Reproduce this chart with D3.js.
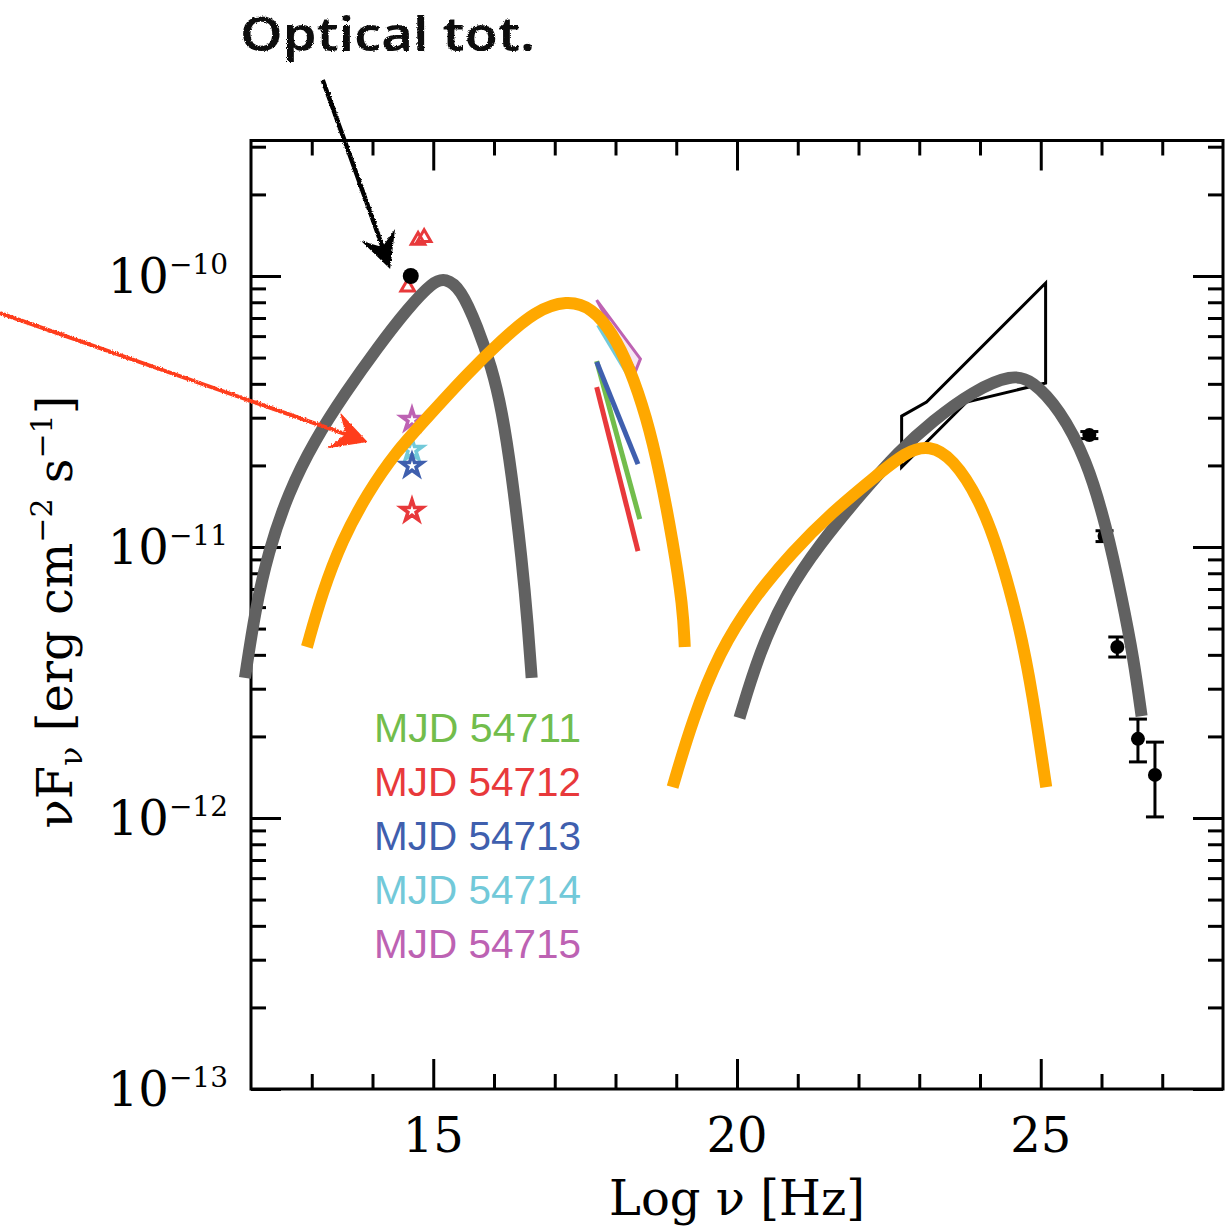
<!DOCTYPE html>
<html>
<head>
<meta charset="utf-8">
<script src="https://cdn.jsdelivr.net/npm/d3@7"></script>
<style>
  html, body { margin: 0; padding: 0; background: #fff; }
  svg { display: block; }
</style>
</head>
<body>
<svg id="chart" width="1225" height="1228"></svg>
<script>
// ---- data: log10(nu / Hz) and log10(nu F_nu / erg cm^-2 s^-1) ----

// model curves
const syncModelA = [[11.90,-11.483],[12.07,-11.232],[12.28,-11.022],[12.61,-10.801],[13.05,-10.605],
  [13.55,-10.432],[14.09,-10.262],[14.58,-10.120],[15.00,-10.020],[15.20,-10.008],[15.45,-10.045],
  [15.73,-10.188],[15.96,-10.336],[16.13,-10.494],[16.29,-10.727],[16.46,-11.048],[16.56,-11.295],[16.62,-11.483]];
const icModelA = [[20.04,-11.631],[20.37,-11.387],[20.82,-11.166],[21.36,-10.990],[22.02,-10.810],
  [22.67,-10.645],[23.22,-10.535],[23.88,-10.425],[24.53,-10.362],[24.86,-10.385],[25.31,-10.491],
  [25.75,-10.675],[26.08,-10.923],[26.34,-11.192],[26.53,-11.413],[26.66,-11.624]];
const syncModelB = [[12.92,-11.369],[13.17,-11.170],[13.50,-10.974],[13.92,-10.801],[14.37,-10.653],
  [14.91,-10.520],[15.57,-10.358],[16.13,-10.236],[16.67,-10.130],[17.20,-10.088],[17.62,-10.118],
  [17.95,-10.210],[18.23,-10.336],[18.51,-10.520],[18.73,-10.727],[18.94,-10.974],[19.11,-11.221],[19.14,-11.369]];
const icModelB = [[18.94,-11.886],[19.27,-11.635],[19.71,-11.387],[20.26,-11.192],[20.91,-11.018],
  [21.57,-10.871],[22.23,-10.749],[22.79,-10.646],[23.17,-10.624],[23.55,-10.672],[23.99,-10.823],
  [24.32,-11.018],[24.65,-11.292],[24.86,-11.535],[25.09,-11.886]];

// optical photometry
const opticalTotal = [[14.63,-10.00]];
const opticalTriangles = [[14.75,-9.868],[14.85,-9.858],[14.58,-10.041]];
const starDays = ["54715","54714","54713","54712"];
const starFlux = [-10.531,-10.642,-10.701,-10.867];
const starNu = 14.65;

// X-ray power laws per day: [nuStart, fluxStart, nuEnd, fluxEnd]
const xrayDays = ["54714","54711","54713","54712"];
const xraySegments = [
  [17.72,-10.180,18.35,-10.415],
  [17.69,-10.314,18.40,-10.897],
  [17.69,-10.317,18.37,-10.694],
  [17.69,-10.410,18.37,-11.015]
];
const xrayBand54715 = [[17.69,-10.089],[18.41,-10.306],[18.33,-10.351]];

// gamma-ray butterfly (GeV)
const gevButterfly = [[22.71,-10.517],[23.12,-10.465],[25.08,-10.026],[25.08,-10.395],[23.78,-10.465],[22.71,-10.705]];

// VHE points: nu, flux, error low, error high
const vheNu   = [25.80, 26.05, 26.26, 26.60, 26.88];
const vheFlux = [-10.587, -10.959, -11.369, -11.708, -11.841];
const vheLo   = [-10.600, -10.980, -11.406, -11.793, -11.996];
const vheHi   = [-10.574, -10.940, -11.332, -11.635, -11.720];

// legend
const legendDays = ["MJD 54711","MJD 54712","MJD 54713","MJD 54714","MJD 54715"];
const dayColor = {
  "54711": "#72bd4c",
  "54712": "#e8393b",
  "54713": "#3f5fae",
  "54714": "#72c9d9",
  "54715": "#bd62b3"
};

// axis ticks
const xMajor = [15, 20, 25];
const xMinor = [13,14,16,17,18,19,21,22,23,24,26,27];
const yMajor = [-13, -12, -11, -10];
const yTickLabels = ["\u221213","\u221212","\u221211","\u221210"];

// annotations (data coordinates)
const noteText = "Optical tot.";
const notePos = [11.82, -9.17];
const blackArrow = [[13.18,-9.277],[13.62,-9.55],[14.29,-9.974]];
const redArrow = [[7.87,-10.137],[13.92,-10.613]];

// ---- drawing ----
const svg = d3.select("#chart");
const plotL = 251, plotR = 1223, plotT = 140.5, plotB = 1089;

const x = d3.scaleLinear().domain([12, 28]).range([plotL, plotR]);
const y = d3.scaleLinear().domain([-13, -9.5]).range([plotB, plotT]);

const defs = svg.append("defs");
const rough = defs.append("filter").attr("id", "rough")
  .attr("x", "-10%").attr("y", "-10%").attr("width", "120%").attr("height", "120%");
rough.append("feTurbulence").attr("type", "fractalNoise").attr("baseFrequency", 0.8)
  .attr("numOctaves", 2).attr("seed", 3).attr("result", "noise");
rough.append("feDisplacementMap").attr("in", "SourceGraphic").attr("in2", "noise")
  .attr("scale", 3).attr("xChannelSelector", "R").attr("yChannelSelector", "G");

const serif = "'DejaVu Serif', 'Liberation Serif', serif";

// minor y ticks: 2..9 times each decade
const yMinor = [];
for (let e = -13; e <= -10; e++) {
  for (let k = 2; k <= 9; k++) {
    const v = e + Math.log10(k);
    if (v <= -9.5) yMinor.push(v);
  }
}

function styleAxis(g) {
  g.select(".domain").remove();
  g.selectAll(".tick line").attr("stroke", "#000").attr("stroke-width", 3);
  g.selectAll(".tick text").remove();
}

// inward ticks on all four sides
const axes = svg.append("g");
axes.append("g").attr("transform", `translate(0,${plotB})`)
  .call(d3.axisBottom(x).tickValues(xMajor).tickSize(-30)).call(styleAxis);
axes.append("g").attr("transform", `translate(0,${plotB})`)
  .call(d3.axisBottom(x).tickValues(xMinor).tickSize(-15)).call(styleAxis);
axes.append("g").attr("transform", `translate(0,${plotT})`)
  .call(d3.axisTop(x).tickValues(xMajor).tickSize(-30)).call(styleAxis);
axes.append("g").attr("transform", `translate(0,${plotT})`)
  .call(d3.axisTop(x).tickValues(xMinor).tickSize(-15)).call(styleAxis);
axes.append("g").attr("transform", `translate(${plotL},0)`)
  .call(d3.axisLeft(y).tickValues(yMajor).tickSize(-30)).call(styleAxis);
axes.append("g").attr("transform", `translate(${plotL},0)`)
  .call(d3.axisLeft(y).tickValues(yMinor).tickSize(-15)).call(styleAxis);
axes.append("g").attr("transform", `translate(${plotR},0)`)
  .call(d3.axisRight(y).tickValues(yMajor).tickSize(-30)).call(styleAxis);
axes.append("g").attr("transform", `translate(${plotR},0)`)
  .call(d3.axisRight(y).tickValues(yMinor).tickSize(-15)).call(styleAxis);

// frame
svg.append("rect").attr("x", plotL).attr("y", plotT)
  .attr("width", plotR - plotL).attr("height", plotB - plotT)
  .attr("fill", "none").attr("stroke", "#000").attr("stroke-width", 3);

// tick labels
svg.append("g").selectAll("text").data(xMajor).join("text")
  .attr("x", d => x(d)).attr("y", plotB + 63)
  .attr("text-anchor", "middle")
  .attr("font-family", serif).attr("font-size", 48)
  .text(d => d);

const yl = svg.append("g").selectAll("text").data(yMajor).join("text")
  .attr("x", 228).attr("y", d => y(d) + 17)
  .attr("text-anchor", "end")
  .attr("font-family", serif);
yl.append("tspan").attr("font-size", 48).text("10");
yl.append("tspan").attr("font-size", 28).attr("dy", -19).text((d, i) => yTickLabels[i]);

// axis titles
svg.append("text").attr("x", x(20)).attr("y", 1215)
  .attr("text-anchor", "middle").attr("font-family", serif).attr("font-size", 48)
  .text("Log \u03bd [Hz]");

const yt = svg.append("text")
  .attr("transform", `translate(72,612) rotate(-90)`)
  .attr("text-anchor", "middle").attr("font-family", serif).attr("font-size", 48);
yt.append("tspan").text("\u03bdF");
yt.append("tspan").attr("font-size", 32).attr("dy", 10).text("\u03bd");
yt.append("tspan").attr("dy", -10).text(" [erg cm");
yt.append("tspan").attr("font-size", 30).attr("dy", -20).text("\u22122");
yt.append("tspan").attr("dy", 20).text(" s");
yt.append("tspan").attr("font-size", 30).attr("dy", -20).text("\u22121");
yt.append("tspan").attr("dy", 20).text("]");

const closed = d3.line().x(d => x(d[0])).y(d => y(d[1])).curve(d3.curveLinearClosed);
const smooth = d3.line().x(d => x(d[0])).y(d => y(d[1])).curve(d3.curveBasis);

// GeV butterfly
svg.append("path").datum(gevButterfly)
  .attr("d", closed)
  .attr("fill", "none").attr("stroke", "#000").attr("stroke-width", 3)
  .attr("stroke-linejoin", "miter");

// VHE points with error bars
const vhe = svg.append("g");
vheNu.forEach((nu, i) => {
  const cx = x(nu);
  vhe.append("line").attr("x1", cx).attr("x2", cx).attr("y1", y(vheLo[i])).attr("y2", y(vheHi[i]))
    .attr("stroke", "#000").attr("stroke-width", 3);
  [vheLo[i], vheHi[i]].forEach(v => vhe.append("line")
    .attr("x1", cx - 9).attr("x2", cx + 9).attr("y1", y(v)).attr("y2", y(v))
    .attr("stroke", "#000").attr("stroke-width", 3));
  vhe.append("circle").attr("cx", cx).attr("cy", y(vheFlux[i])).attr("r", 7).attr("fill", "#000");
});

// X-ray slopes
xraySegments.forEach((s, i) => {
  svg.append("line")
    .attr("x1", x(s[0])).attr("y1", y(s[1])).attr("x2", x(s[2])).attr("y2", y(s[3]))
    .attr("stroke", dayColor[xrayDays[i]]).attr("stroke-width", 5);
});
svg.append("path").datum(xrayBand54715)
  .attr("d", closed)
  .attr("fill", "#f6e6f3").attr("stroke", dayColor["54715"]).attr("stroke-width", 3);

// optical points
svg.append("g").selectAll("path").data(opticalTriangles).join("path")
  .attr("transform", d => `translate(${x(d[0])},${y(d[1])})`)
  .attr("d", d3.symbol(d3.symbolTriangle, 80))
  .attr("fill", "none").attr("stroke", dayColor["54712"]).attr("stroke-width", 3);
svg.append("g").selectAll("path").data(starFlux).join("path")
  .attr("transform", d => `translate(${x(starNu)},${y(d)})`)
  .attr("d", d3.symbol(d3.symbolStar, 140))
  .attr("fill", "#fff")
  .attr("stroke", (d, i) => dayColor[starDays[i]]).attr("stroke-width", 3.5);
svg.append("g").selectAll("circle").data(opticalTotal).join("circle")
  .attr("cx", d => x(d[0])).attr("cy", d => y(d[1])).attr("r", 8).attr("fill", "#000");

// model curves
[[syncModelA, "#616161"], [icModelA, "#616161"], [syncModelB, "#ffa800"], [icModelB, "#ffa800"]]
  .forEach(([pts, c]) => {
    svg.append("path").datum(pts).attr("d", smooth)
      .attr("fill", "none").attr("stroke", c).attr("stroke-width", 12)
      .attr("stroke-linejoin", "round");
  });

// legend
svg.append("g").selectAll("text").data(legendDays).join("text")
  .attr("x", 374).attr("y", (d, i) => 742 + i * 54)
  .attr("font-family", "'Liberation Sans', Arial, sans-serif").attr("font-size", 41)
  .attr("textLength", 207).attr("lengthAdjust", "spacingAndGlyphs")
  .attr("fill", d => dayColor[d.split(" ")[1]])
  .text(d => d);

// hand-drawn annotations
function arrowHead(tip, from, len, half) {
  const dx = tip[0] - from[0], dy = tip[1] - from[1];
  const n = Math.hypot(dx, dy), ux = dx / n, uy = dy / n;
  const bx = tip[0] - ux * len, by = tip[1] - uy * len;
  const nx = tip[0] - ux * len * 0.65, ny = tip[1] - uy * len * 0.65;
  return `M${tip[0]},${tip[1]}L${bx - uy * half},${by + ux * half}L${nx},${ny}L${bx + uy * half},${by - ux * half}Z`;
}
const notes = svg.append("g").attr("filter", "url(#rough)");
const bPts = blackArrow.map(d => [x(d[0]), y(d[1])]);
notes.append("path").attr("d", d3.line().curve(d3.curveCatmullRom)([bPts[0], bPts[1], [bPts[2][0] - 4, bPts[2][1] - 12]]))
  .attr("fill", "none").attr("stroke", "#000").attr("stroke-width", 4.5);
notes.append("path").attr("d", arrowHead(bPts[2], bPts[1], 36, 18)).attr("fill", "#000");

const rPts = redArrow.map(d => [x(d[0]), y(d[1])]);
notes.append("line").attr("x1", rPts[0][0]).attr("y1", rPts[0][1])
  .attr("x2", rPts[1][0] - 8).attr("y2", rPts[1][1] - 3)
  .attr("stroke", "#ff3d1c").attr("stroke-width", 4);
notes.append("path").attr("d", arrowHead(rPts[1], rPts[0], 36, 19)).attr("fill", "#ff3d1c");

notes.append("text").attr("x", x(notePos[0])).attr("y", y(notePos[1]))
  .attr("font-family", "'Noto Sans', 'DejaVu Sans', sans-serif").attr("font-size", 46)
  .attr("font-weight", 600)
  .attr("textLength", 295).attr("lengthAdjust", "spacingAndGlyphs")
  .attr("fill", "#111").text(noteText);
</script>
</body>
</html>
